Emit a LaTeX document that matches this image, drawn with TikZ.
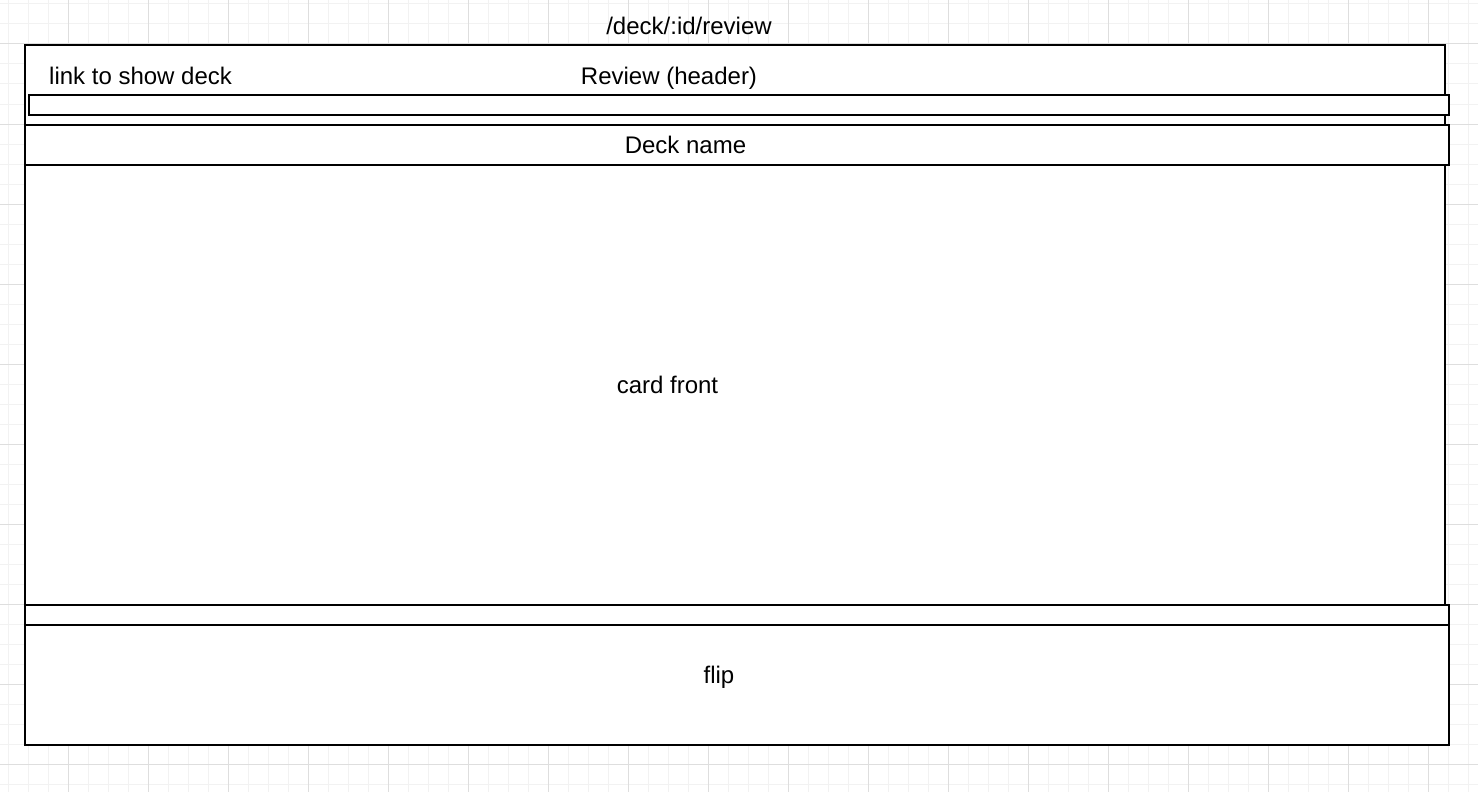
\documentclass[tikz,border=0pt]{standalone}
\usepackage{fontspec}
\setmainfont{Liberation Sans}
\begin{document}
\begin{tikzpicture}[x=1pt,y=-1pt,
  minorgrid/.style={draw=black!5,line width=1pt},
  majorgrid/.style={draw=black!13,line width=1pt},
  box/.style={draw=black,fill=white,line width=2pt},
  lbl/.style={font=\fontsize{24}{28}\selectfont,inner sep=0pt,anchor=base}]
\useasboundingbox (0,0) rectangle (1478,792);
\fill[white] (0,0) rectangle (1478,792);
% grid
\foreach \x in {8,28,...,1478} \draw[minorgrid] (\x,0) -- (\x,792);
\foreach \y in {4,24,...,792} \draw[minorgrid] (0,\y) -- (1478,\y);
\foreach \x in {68,148,...,1478} \draw[majorgrid] (\x,0) -- (\x,792);
\foreach \y in {44,124,...,792} \draw[majorgrid] (0,\y) -- (1478,\y);
% boxes
\draw[box] (25,45) rectangle (1445,605);
\draw[box] (29,95) rectangle (1449,115);
\draw[box] (25,125) rectangle (1449,165);
\draw[box] (25,605) rectangle (1449,625);
\draw[box] (25,625) rectangle (1449,745);
% labels
\node[lbl] (route) at (689,34.5) {/deck/:id/review};
\node[lbl,anchor=base west] (link) at (49,84.5) {link to show deck};
\node[lbl] (header) at (669,84.5) {Review (header)};
\node[lbl] (deck) at (685.5,153.5) {Deck name};
\node[lbl] (front) at (667.5,393.5) {card front};
\node[lbl] (flip) at (719,683.5) {flip};
\end{tikzpicture}
\end{document}
